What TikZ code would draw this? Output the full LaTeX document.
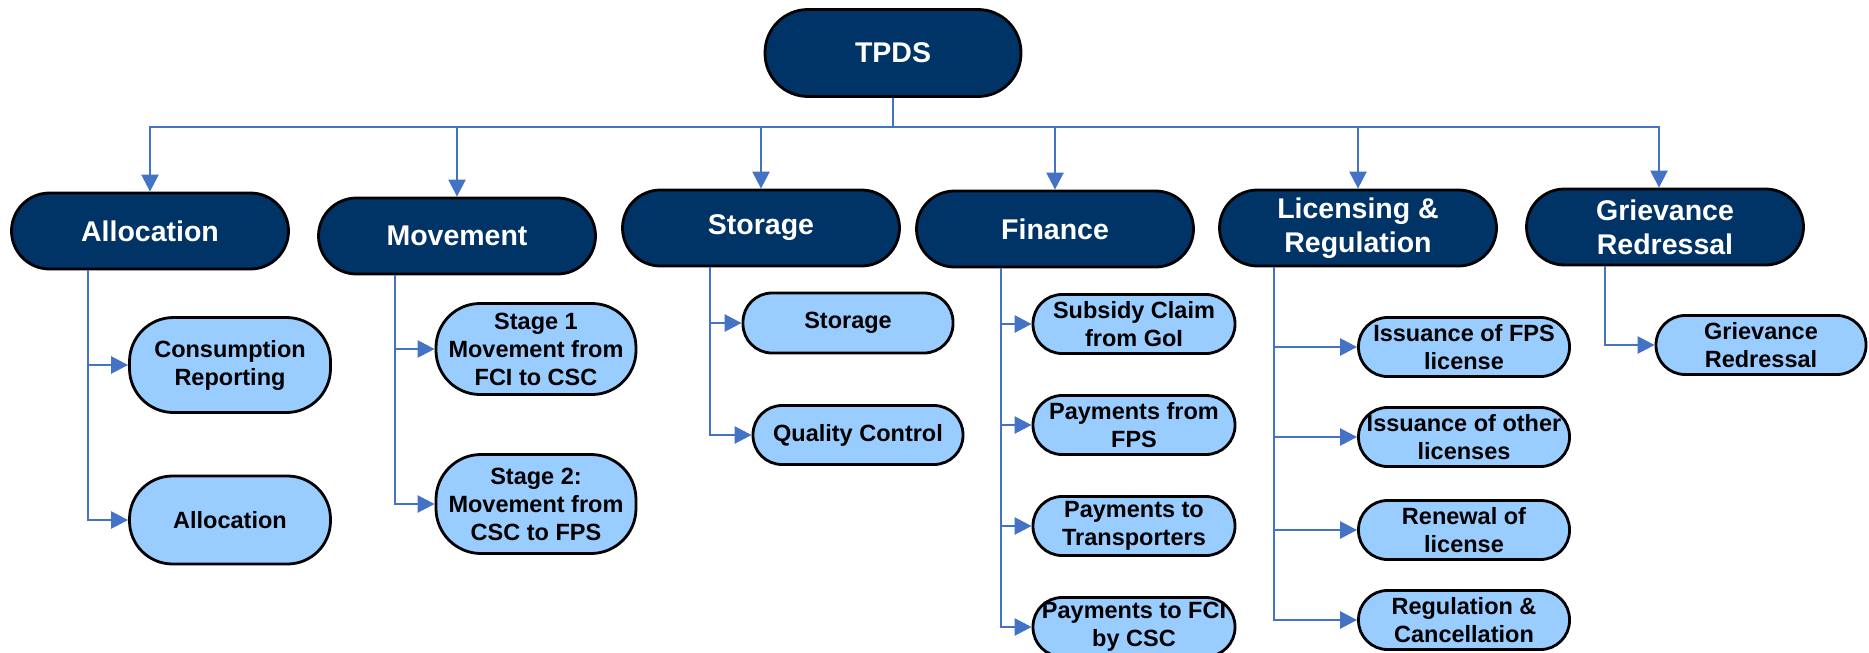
\documentclass[tikz,border=0pt]{standalone}
\usepackage{fontspec}
\setmainfont{Liberation Sans}
\usetikzlibrary{arrows.meta}
\definecolor{navy}{RGB}{0,51,102}
\definecolor{lblue}{RGB}{153,204,255}
\definecolor{cblue}{RGB}{68,114,196}
\begin{document}
\begin{tikzpicture}[x=1pt,y=-1pt,
  darkbox/.style={draw=black, line width=2.8pt, fill=navy, text=white,
    font=\bfseries\fontsize{28.5}{34}\selectfont, align=center, inner sep=0pt,
    minimum width=277pt, minimum height=76pt, rounded corners=38pt},
  lightbox/.style={draw=black, line width=2.8pt, fill=lblue, text=black,
    font=\bfseries\fontsize{23.5}{28}\selectfont, align=center, inner sep=0pt,
    minimum height=59pt, rounded corners=29pt},
  conn/.style={draw=cblue, line width=2.5pt, -{Triangle[length=17pt,width=17pt]}},
  bus/.style={draw=cblue, line width=2.5pt}]
\useasboundingbox (0,0) rectangle (1869,653);
\clip (0,0) rectangle (1869,653);

% top
\node[darkbox, minimum width=256pt, minimum height=87pt, rounded corners=43pt] (tpds) at (893,53) {TPDS};
\coordinate (busc) at (893,127);

% level 2
\node[darkbox] (alloc) at (150,231) {Allocation};
\node[darkbox] (move) at (457,236) {Movement};
\node[darkbox] (stor) at (761,228) {Storage};
\node[darkbox] (fin) at (1055,229) {Finance};
\node[darkbox] (lic) at (1358,228) {Licensing \&\\Regulation};
\node[darkbox] (griev) at (1665,227) {Grievance\\Redressal};

% level 3
\node[lightbox, minimum width=201pt, minimum height=95pt, rounded corners=44pt] (cons) at (230,365) {Consumption\\Reporting};
\node[lightbox, minimum width=201pt, minimum height=88pt, rounded corners=43pt] (allc) at (230,520) {Allocation};
\node[lightbox, minimum width=200pt, minimum height=91pt, rounded corners=44pt] (st1) at (536,349) {Stage 1\\Movement from\\FCI to CSC};
\node[lightbox, minimum width=200pt, minimum height=99pt, rounded corners=45pt] (st2) at (536,504) {Stage 2:\\Movement from\\CSC to FPS};
\node[lightbox, minimum width=210pt, minimum height=60pt] (stc) at (848,323) {Storage};
\node[lightbox, minimum width=210pt] (qc) at (858,435) {Quality Control};
\node[lightbox, minimum width=202pt] (sub) at (1134,324) {Subsidy Claim\\from GoI};
\node[lightbox, minimum width=202pt] (pfp) at (1134,425) {Payments from\\FPS};
\node[lightbox, minimum width=202pt] (ptr) at (1134,526) {Payments to\\Transporters};
\node[lightbox, minimum width=202pt] (pfc) at (1134,627) {Payments to FCI\\by CSC};
\node[lightbox, minimum width=211pt] (ifps) at (1464,347) {Issuance of FPS\\license};
\node[lightbox, minimum width=211pt] (iol) at (1464,437) {Issuance of other\\licenses};
\node[lightbox, minimum width=211pt] (ren) at (1464,530) {Renewal of\\license};
\node[lightbox, minimum width=211pt] (reg) at (1464,620) {Regulation \&\\Cancellation};
\node[lightbox, minimum width=210pt] (grc) at (1761,345) {Grievance\\Redressal};

% connectors from top
\draw[bus] (tpds.south) -- (busc);
\draw[conn] (busc) -| (alloc.north);
\draw[conn] (busc) -| (move.north);
\draw[conn] (busc) -| (stor.north);
\draw[conn] (busc) -| (fin.north);
\draw[conn] (busc) -| (lic.north);
\draw[conn] (busc) -| ([xshift=-6pt]griev.north);

% connectors to children
\draw[conn] ([xshift=-62pt]alloc.south) |- (cons.west);
\draw[conn] ([xshift=-62pt]alloc.south) |- (allc.west);
\draw[conn] ([xshift=-62pt]move.south) |- (st1.west);
\draw[conn] ([xshift=-62pt]move.south) |- (st2.west);
\draw[conn] ([xshift=-51pt]stor.south) |- (stc.west);
\draw[conn] ([xshift=-51pt]stor.south) |- (qc.west);
\draw[conn] ([xshift=-54pt]fin.south) |- (sub.west);
\draw[conn] ([xshift=-54pt]fin.south) |- (pfp.west);
\draw[conn] ([xshift=-54pt]fin.south) |- (ptr.west);
\draw[conn] ([xshift=-54pt]fin.south) |- (pfc.west);
\draw[conn] ([xshift=-84pt]lic.south) |- (ifps.west);
\draw[conn] ([xshift=-84pt]lic.south) |- (iol.west);
\draw[conn] ([xshift=-84pt]lic.south) |- (ren.west);
\draw[conn] ([xshift=-84pt]lic.south) |- (reg.west);
\draw[conn] ([xshift=-60pt]griev.south) |- (grc.west);
\end{tikzpicture}
\end{document}
